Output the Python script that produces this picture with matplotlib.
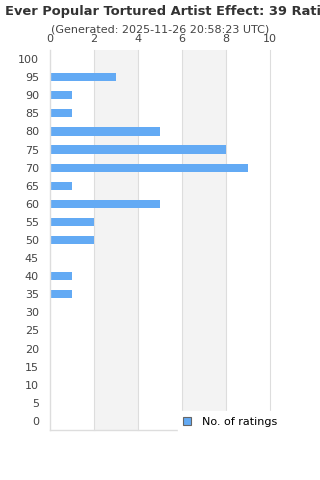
import matplotlib.pyplot as plt
from matplotlib.patches import Patch

# ratings buckets (top to bottom) and counts
buckets = [100, 95, 90, 85, 80, 75, 70, 65, 60, 55, 50, 45, 40, 35, 30, 25, 20, 15, 10, 5, 0]
counts = [0, 3, 1, 1, 5, 8, 9, 1, 5, 2, 2, 0, 1, 1, 0, 0, 0, 0, 0, 0, 0]
x_ticks = [0, 2, 4, 6, 8, 10]

title = "Ever Popular Tortured Artist Effect: 39 Ratings"
subtitle = "(Generated: 2025-11-26 20:58:23 UTC)"

bar_color = "#63aaf4"
grid_color = "#dddddd"
text_color = "#444444"

fig = plt.figure(figsize=(3.2, 4.8), dpi=100)
ax = fig.add_axes([50 / 320, 1 - 430 / 480, 220 / 320, 380 / 480])

pos = list(range(len(buckets)))

# alternating bands
for i in range(0, len(x_ticks) - 1):
    if i % 2 == 1:
        ax.axvspan(x_ticks[i], x_ticks[i + 1], color="#f3f3f3", zorder=0, lw=0)
for t in x_ticks[1:]:
    ax.axvline(t, color=grid_color, lw=0.8, zorder=1, clip_on=False)

ax.barh(pos, counts, height=0.45, color=bar_color, zorder=2)

ax.set_xlim(0, 10)
ax.set_ylim(len(buckets) - 0.5, -0.5)
ax.set_yticks(pos)
ax.set_yticklabels([str(b) for b in buckets])
ax.set_xticks(x_ticks)
ax.xaxis.tick_top()
ax.tick_params(axis="both", length=0, labelsize=8, colors=text_color)
ax.tick_params(axis="x", pad=4.5)
ax.tick_params(axis="y", pad=8)

for s in ["top", "right"]:
    ax.spines[s].set_visible(False)
for s in ["left", "bottom"]:
    ax.spines[s].set_color(grid_color)
    ax.spines[s].set_linewidth(1.0)

fig.text(5 / 320, 1 - 11 / 480, title, fontsize=9.4, fontweight="bold",
         color="#333333", ha="left", va="center")
fig.text(0.5, 1 - 30 / 480, subtitle, fontsize=8, color=text_color,
         ha="center", va="center")

handle = Patch(facecolor=bar_color, edgecolor="#666666", linewidth=0.8)
leg = fig.legend([handle], ["No. of ratings"], loc="center left",
                 bbox_to_anchor=(172 / 320, 1 - 422 / 480), fontsize=8,
                 frameon=True, handlelength=0.7, handleheight=0.7,
                 handletextpad=1.0, borderpad=0.5)
leg.get_frame().set_facecolor("white")
leg.get_frame().set_edgecolor("white")
leg.get_frame().set_alpha(1)
leg.set_zorder(10)

fig.savefig("out.png", dpi=100)
